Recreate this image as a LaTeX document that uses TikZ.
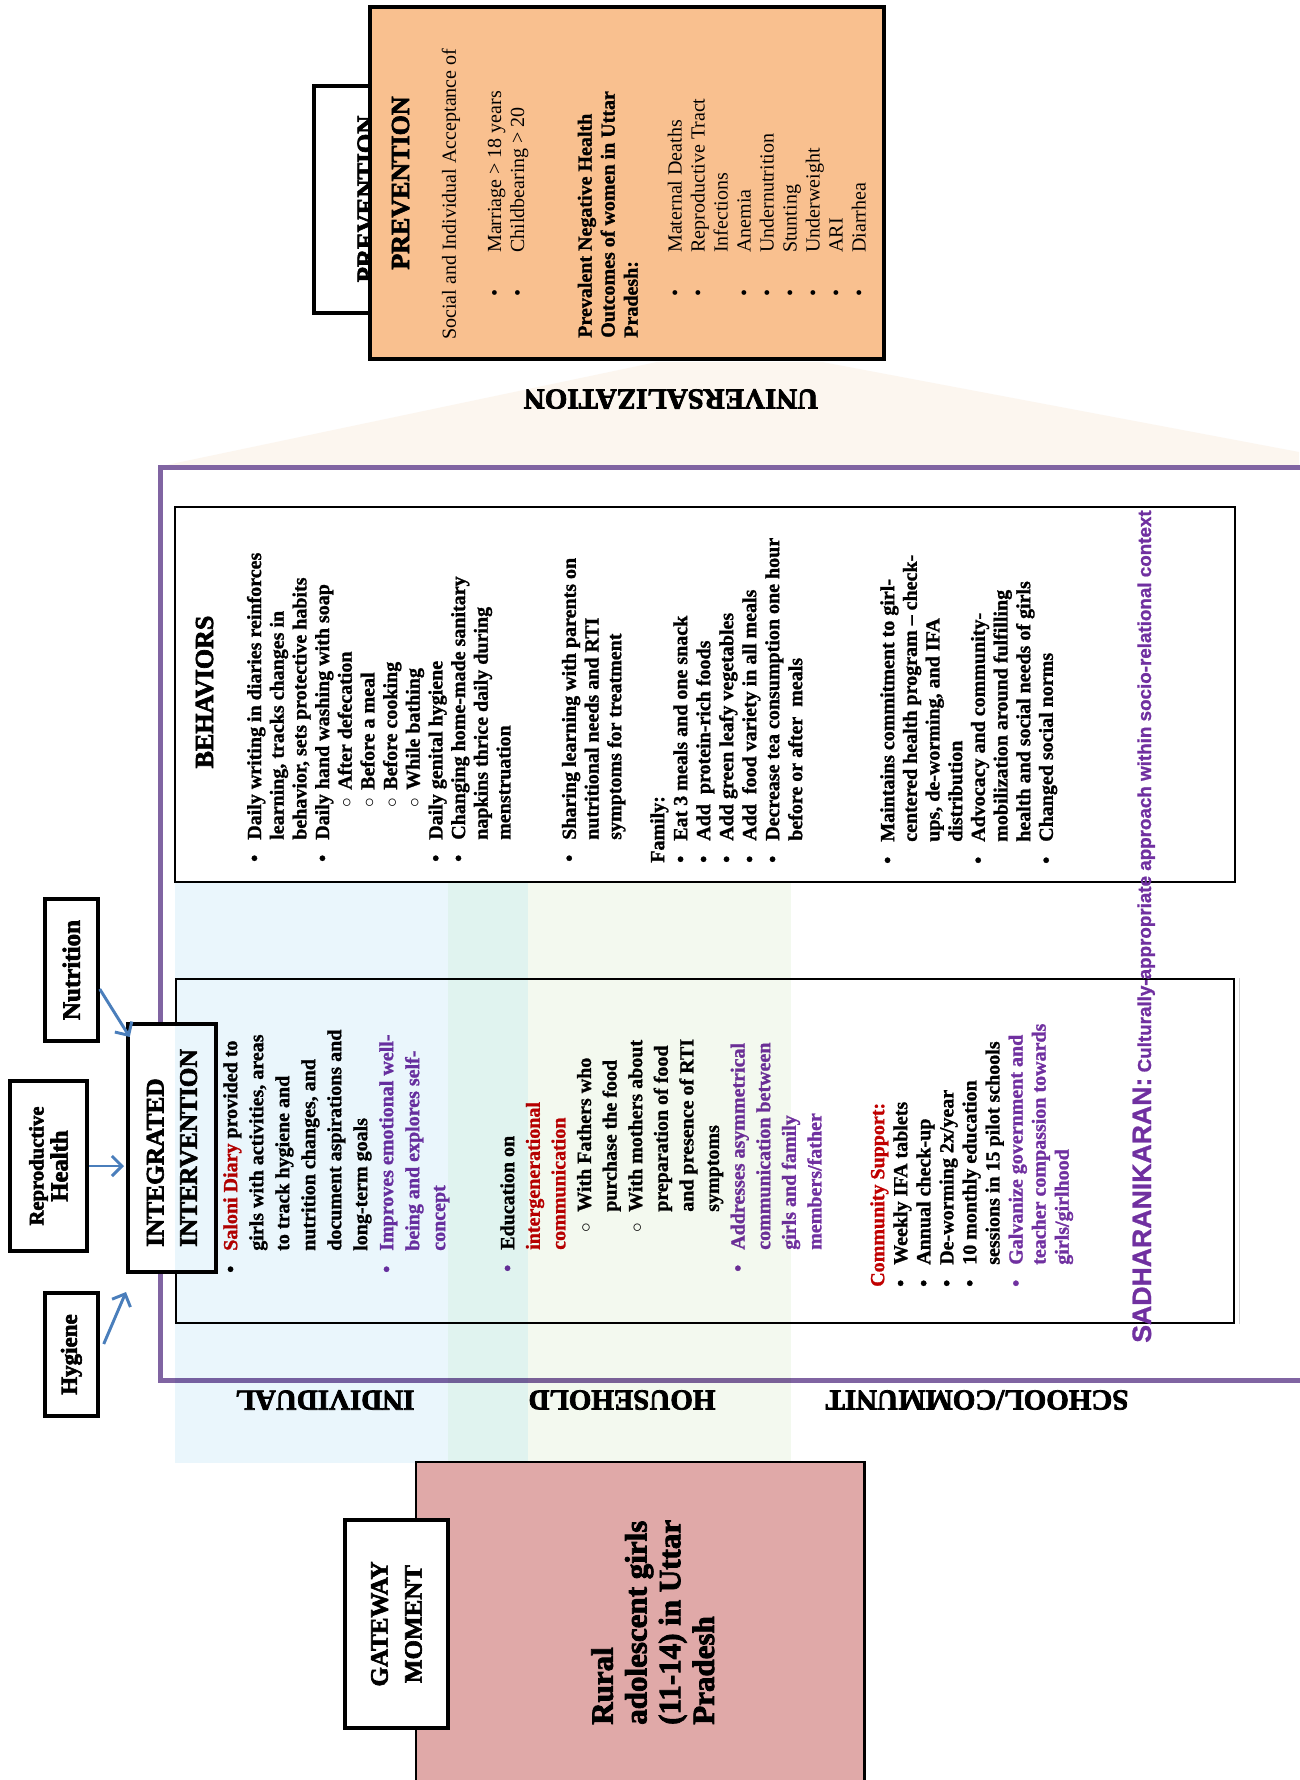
\documentclass[tikz,border=0pt]{standalone}
\usepackage{fontspec}
\setmainfont{Liberation Serif}[BoldFeatures={FakeBold=1.2}]
\newfontfamily\hvy{Liberation Serif}[BoldFeatures={FakeBold=2.6}]
\newfontfamily\sadfont{Liberation Sans}[BoldFeatures={FakeBold=1}]
\usetikzlibrary{arrows.meta}
\newdimen\pxu
\pxu=0.75pt
\definecolor{redt}{HTML}{C00000}
\definecolor{purt}{HTML}{7030A0}
\definecolor{purframe}{HTML}{8064A2}
\definecolor{orangefill}{HTML}{F9C08F}
\definecolor{pinkfill}{HTML}{E0A9A8}
\definecolor{cream}{HTML}{FCF6EF}
\definecolor{colblue}{HTML}{EAF6FC}
\definecolor{colmix}{HTML}{E0F3EF}
\definecolor{colgreen}{HTML}{F3F9EF}
\definecolor{arrowblue}{HTML}{4A7EBB}
\newcommand\bul[1][black]{\makebox[22\pxu][l]{\textcolor{#1}{•}}}
\newcommand\cnt{\makebox[22\pxu][l]{}}
\newcommand\sbA{\makebox[54\pxu][l]{}\makebox[18\pxu][l]{$\circ$}}
\newcommand\sbB{\makebox[39\pxu][l]{}\makebox[21\pxu][l]{$\circ$}}
\newcommand\scB{\makebox[60\pxu][l]{}}
\newcommand\pbul{\makebox[44\pxu][l]{•}}
\newcommand\pcnt{\makebox[44\pxu][l]{}}
\newcommand\rtx[1]{\textcolor{redt}{#1}}
\newcommand\ptx[1]{\textcolor{purt}{#1}}
\begin{document}
\begin{tikzpicture}[x=0.75pt,y=-0.75pt,
 tbox/.style={draw, fill=white, rotate=90, inner sep=0pt, align=center, font=\hvy\bfseries},
 txt/.style={rotate=90, anchor=north west, inner sep=0pt, align=left},
 bodyb/.style={txt, font=\bfseries\fontsize{15}{17}\selectfont},
 bodyr/.style={txt, font=\fontsize{15}{17.25}\selectfont},
 lab/.style={rotate=180, inner sep=0pt, font=\hvy\bfseries\fontsize{21.75}{24}\selectfont},
 head/.style={rotate=90, anchor=base, inner sep=0pt, font=\hvy\bfseries\fontsize{19.5}{22}\selectfont},
 arr/.style={draw=arrowblue, line width=2.2pt, -{Straight Barb[length=7.5pt,width=15pt]}},
]
\fill[white] (0,0) rectangle (1299,1780);
\useasboundingbox (0,0) rectangle (1299,1780);

% universalization
\fill[cream] (657,362) -- (822,362) -- (1299,452) -- (1299,467) -- (162,466) -- cycle;
\node[lab] (univ) at (671,399) {UNIVERSALIZATION};

% prevention
\node[tbox, line width=2.6pt, minimum width=170.25pt, minimum height=42pt] (prevtab) at (342,199.5) {};
\node[head, font=\hvy\bfseries\fontsize{18.75}{22}\selectfont] (prevtabtxt) at (374,199) {PREVENTION};
\node[draw, line width=2.4pt, fill=orangefill, inner sep=0pt, minimum width=385.5pt, minimum height=264pt] (prevbox) at (627,183) {};
\node[head] (prevhead) at (409,183) {PREVENTION};
\node[bodyr] (soc) at (441.6,340) {Social and Individual Acceptance of};
\node[bodyr] (ages) at (487.5,297) {\pbul Marriage > 18 years\\\pbul Childbearing > 20};
\node[bodyb, font=\bfseries\fontsize{15}{17.25}\selectfont] (prevneg) at (577.5,338) {Prevalent Negative Health\\Outcomes of women in Uttar\\Pradesh:};
\node[bodyr] (outcomes) at (667.4,297) {\pbul Maternal Deaths\\\pbul Reproductive Tract\\\pcnt Infections\\\pbul Anemia\\\pbul Undernutrition\\\pbul Stunting\\\pbul Underweight\\\pbul ARI\\\pbul Diarrhea};

% purple frame
\draw[purframe, line width=3.75pt] (1330,467) -- (160.5,467) -- (160.5,1380.5) -- (1330,1380.5);

% behaviors
\node[draw, line width=1.6pt, inner sep=0pt, minimum width=795pt, minimum height=281.25pt] (behbox) at (705,694.5) {};
\node[head] (behhead) at (213,692) {BEHAVIORS};
\node[bodyb] (beh1) at (246.7,862) {\bul Daily writing in diaries reinforces\\\cnt learning, tracks changes in\\\cnt behavior, sets protective habits\\\bul Daily hand washing with soap\\\sbA After defecation\\\sbA Before a meal\\\sbA Before cooking\\\sbA While bathing\\\bul Daily genital hygiene\\\bul Changing home-made sanitary\\\cnt napkins thrice daily during\\\cnt menstruation};
\node[bodyb] (beh2) at (561.7,862) {\bul Sharing learning with parents on\\\cnt nutritional needs and RTI\\\cnt symptoms for treatment};
\node[bodyb, font=\bfseries\fontsize{15}{17.25}\selectfont] (beh3) at (650,863) {Family:\\\bul Eat 3 meals and one snack\\\bul Add\ \ protein-rich foods\\\bul Add green leafy vegetables\\\bul Add\ \ food variety in all meals\\\bul Decrease tea consumption one hour\\\cnt before or after\ \ meals};
\node[bodyb] (beh4) at (880,864) {\bul Maintains commitment to girl-\\\cnt centered health program – check-\\\cnt ups, de-worming, and IFA\\\cnt distribution\\\bul Advocacy and community-\\\cnt mobilization around fulfilling\\\cnt health and social needs of girls\\\bul Changed social norms};

% intervention box
\node[draw, line width=1.6pt, inner sep=0pt, minimum width=794pt, minimum height=258pt] (intbox) at (705,1151) {};
\draw[black!18, line width=1pt] ([xshift=3pt]intbox.north east) -- ([xshift=3pt]intbox.south east);
\node[bodyb, font=\bfseries\fontsize{15}{19.5}\selectfont] (int1) at (223,1273) {\bul \rtx{Saloni Diary} provided to\\\cnt girls with activities, areas\\\cnt to track hygiene and\\\cnt nutrition changes, and\\\cnt document aspirations and\\\cnt long-term goals\\\bul[purt]\ptx{Improves emotional well-}\\\cnt\ptx{being and explores self-}\\\cnt\ptx{concept}};
\node[bodyb, font=\bfseries\fontsize{15}{19.2}\selectfont] (int2) at (500,1272) {\bul[purt]Education on\\\cnt\rtx{intergenerational}\\\cnt\rtx{communication}\\\sbB With Fathers who\\\scB purchase the food\\\sbB With mothers about\\\scB preparation of food\\\scB and presence of RTI\\\scB symptoms\\\bul[purt]\ptx{Addresses asymmetrical}\\\cnt\ptx{communication between}\\\cnt\ptx{girls and family}\\\cnt\ptx{members/father}};
\node[bodyb, font=\bfseries\fontsize{15}{17.3}\selectfont] (int3) at (870,1287) {\rtx{Community Support:}\\\bul Weekly IFA tablets\\\bul Annual check-up\\\bul De-worming 2x/year\\\bul 10 monthly education\\\cnt sessions in 15 pilot schools\\\bul[purt]\ptx{Galvanize government and}\\\cnt\ptx{teacher compassion towards}\\\cnt\ptx{girls/girlhood}};

% integrated intervention and inputs
\node[tbox, line width=3pt, minimum width=186pt, minimum height=66pt, align=left, font=\hvy\bfseries\fontsize{19}{25}\selectfont] (integ) at (172,1148) {INTEGRATED\\INTERVENTION};
\node[tbox, line width=3pt, minimum width=106.5pt, minimum height=39.5pt, font=\hvy\bfseries\fontsize{18.75}{22}\selectfont] (nut) at (71.4,970) {Nutrition};
\node[tbox, line width=3pt, minimum width=127.5pt, minimum height=57.75pt] (rep) at (48.5,1166) {{\fontsize{15.5}{18}\selectfont Reproductive}\\[1pt]{\fontsize{18.5}{20}\selectfont Health}};
\node[tbox, line width=3pt, minimum width=92.25pt, minimum height=39.5pt, font=\hvy\bfseries\fontsize{17.25}{20}\selectfont] (hyg) at (71.4,1354.5) {Hygiene};
\draw[arr] ([yshift=-14.25pt]nut.south) -- ([xshift=2.8pt,yshift=-11.25pt]integ.north east);
\draw[arr] (rep.south) -- ([xshift=-1.5pt]rep.south -| integ.north);
\draw[arr] ([xshift=3pt,yshift=7.9pt]hyg.south) -- ([yshift=-13.5pt]integ.north west);

% column overlays
\begin{scope}[blend mode=multiply]
\fill[colblue] (175,883) rectangle (448,1462.7);
\fill[colmix] (448,883) rectangle (528,1462.7);
\fill[colgreen] (528,883) rectangle (791,1462.7);
\end{scope}

% level labels
\node[lab] (indiv) at (325,1400) {INDIVIDUAL};
\node[lab] (house) at (622,1400) {HOUSEHOLD};
\node[lab] (school) at (977,1400) {SCHOOL/COMMUNIT};

% sadharanikaran
\node[rotate=90, anchor=base west, inner sep=0pt, text=purt] (sadh) at (1151,1343) {\sadfont\bfseries\fontsize{20}{24}\selectfont SADHARANIKARAN:\fontsize{14.1}{17}\selectfont\ Culturally-appropriate approach within socio-relational context};

% gateway
\node[draw, line width=2.2pt, fill=pinkfill, inner sep=0pt, minimum width=336.4pt, minimum height=253.5pt] (target) at (640.25,1631) {};
\node[txt, font=\hvy\bfseries\fontsize{23.25}{25.3}\selectfont] (rural) at (591,1725) {Rural\\adolescent girls\\(11-14) in Uttar\\Pradesh};
\node[tbox, line width=2.5pt, minimum width=156pt, minimum height=77.25pt, font=\hvy\bfseries\fontsize{18.75}{25.5}\selectfont] (gate) at (396.5,1624) {GATEWAY\\MOMENT};
\end{tikzpicture}
\end{document}
